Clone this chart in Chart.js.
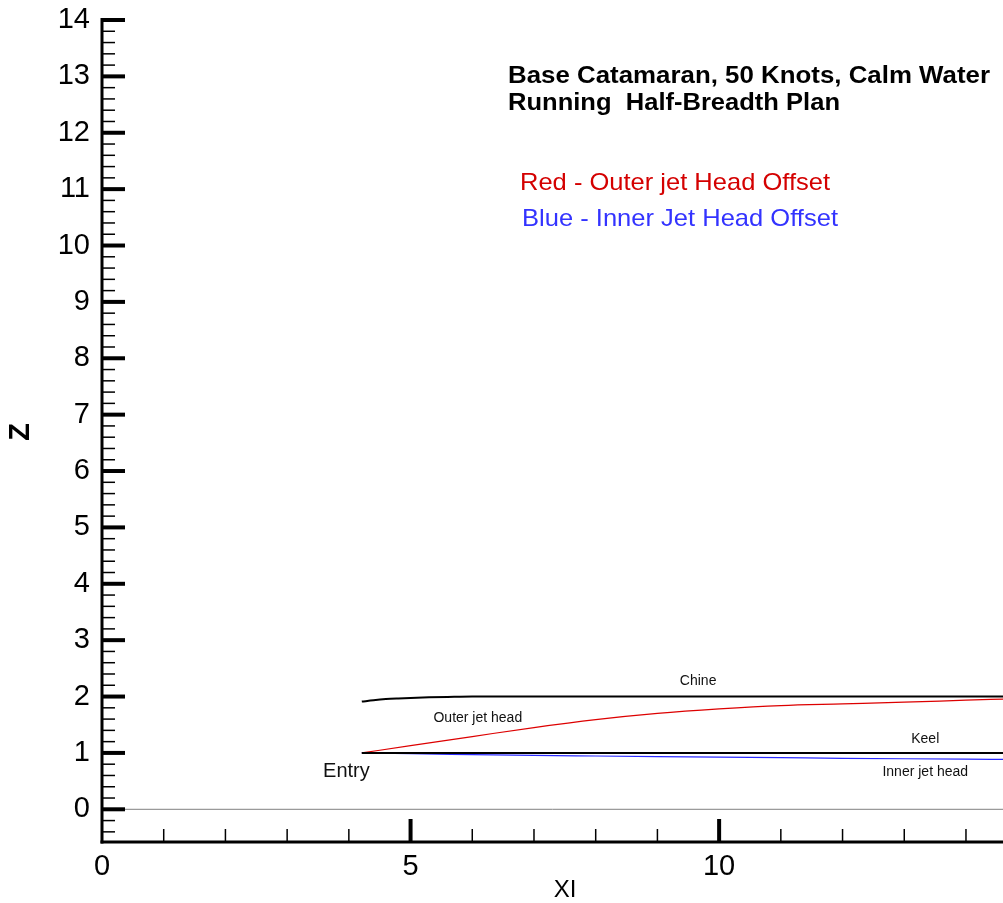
<!DOCTYPE html>
<html>
<head>
<meta charset="utf-8">
<script src="https://cdn.jsdelivr.net/npm/chart.js@4.4.0/dist/chart.umd.min.js"></script>
<style>
  html, body { margin: 0; padding: 0; background: #fff; }
  canvas { display: block; }
</style>
</head>
<body>
<canvas id="c" width="1003" height="903"></canvas>
<script>
// ---- data ----
const xTickLabels = [0, 5, 10];
const yTickLabels = [0, 1, 2, 3, 4, 5, 6, 7, 8, 9, 10, 11, 12, 13, 14];

const chineX = [4.21, 4.4, 4.6, 4.8, 5.0, 5.3, 5.6, 6.0, 7.0, 8.0, 10.0, 12.0, 14.0, 14.6];
const chineY = [1.91, 1.935, 1.955, 1.967, 1.976, 1.986, 1.993, 2.0, 2.0, 2.0, 2.0, 2.0, 2.0, 2.0];

const keelX = [4.21, 14.6];
const keelY = [1.0, 1.0];

const outerX = [4.21, 5, 6, 7, 8, 9, 10, 11, 12, 13, 14, 14.6];
const outerY = [1.00, 1.13, 1.29, 1.45, 1.59, 1.70, 1.78, 1.84, 1.87, 1.90, 1.935, 1.955];

const innerX = [4.21, 5, 6, 7, 8, 9, 10, 11, 12, 13, 14, 14.6];
const innerY = [1.0, 0.985, 0.97, 0.955, 0.945, 0.935, 0.925, 0.915, 0.905, 0.897, 0.89, 0.886];

const zeroX = [0, 14.6];
const zeroY = [0, 0];

const FONT = "'Liberation Sans', Arial, Helvetica, sans-serif";

function pts(xs, ys) { return xs.map((x, i) => ({ x: x, y: ys[i] })); }

// axes + inward tick marks + x tick labels, drawn from the chart's scales
const axesPlugin = {
  id: 'axesPlugin',
  afterDatasetsDraw(chart) {
    const ctx = chart.ctx;
    const xs = chart.scales.x, ys = chart.scales.y;
    const ca = chart.chartArea;
    ctx.save();
    ctx.strokeStyle = '#000';
    ctx.lineCap = 'butt';
    ctx.lineWidth = 3;
    ctx.beginPath();
    ctx.moveTo(xs.getPixelForValue(0), ys.getPixelForValue(14) - 2);
    ctx.lineTo(xs.getPixelForValue(0), ca.bottom + 1.5);
    ctx.stroke();
    ctx.beginPath();
    ctx.moveTo(xs.getPixelForValue(0) - 1.5, ca.bottom);
    ctx.lineTo(ca.right, ca.bottom);
    ctx.stroke();
    const x0 = xs.getPixelForValue(0);
    for (let k = -2; k <= 70; k++) {
      const v = k / 5;
      const py = ys.getPixelForValue(v);
      const major = (k % 5 === 0);
      ctx.lineWidth = major ? 4 : 1.5;
      ctx.beginPath();
      ctx.moveTo(x0, py);
      ctx.lineTo(x0 + (major ? 23 : 13), py);
      ctx.stroke();
    }
    for (let v = 1; v <= 14; v++) {
      const px = xs.getPixelForValue(v);
      const major = (v % 5 === 0);
      ctx.lineWidth = major ? 4 : 1.5;
      ctx.beginPath();
      ctx.moveTo(px, ca.bottom);
      ctx.lineTo(px, ca.bottom - (major ? 23 : 13));
      ctx.stroke();
    }
    ctx.font = '29px ' + FONT;
    ctx.fillStyle = '#000';
    ctx.textAlign = 'center';
    ctx.textBaseline = 'alphabetic';
    xTickLabels.forEach(v => ctx.fillText(String(v), xs.getPixelForValue(v), 875));
    ctx.restore();
  }
};

function stretchText(ctx, text, left, baseline, font, color, width) {
  ctx.save();
  ctx.font = font;
  ctx.fillStyle = color;
  ctx.textBaseline = 'alphabetic';
  ctx.textAlign = 'left';
  const w = ctx.measureText(text).width;
  const s = width ? width / w : 1;
  ctx.translate(left, baseline);
  ctx.scale(s, 1);
  ctx.fillText(text, 0, 0);
  ctx.restore();
}

const textPlugin = {
  id: 'textPlugin',
  afterDraw(chart) {
    const ctx = chart.ctx;
    const xs = chart.scales.x, ys = chart.scales.y;
    stretchText(ctx, 'Base Catamaran, 50 Knots, Calm Water', 508, 83, 'bold 23px ' + FONT, '#000', 482);
    stretchText(ctx, 'Running  Half-Breadth Plan', 508, 110, 'bold 23px ' + FONT, '#000', 332);
    stretchText(ctx, 'Red - Outer jet Head Offset', 520, 190, '24px ' + FONT, '#d40000', 310);
    stretchText(ctx, 'Blue - Inner Jet Head Offset', 522, 226, '24px ' + FONT, '#3333ff', 316);
    const lab = (t, x, y, size) => {
      ctx.save();
      ctx.font = size + 'px ' + FONT;
      ctx.fillStyle = '#111';
      ctx.textAlign = 'center';
      ctx.textBaseline = 'alphabetic';
      ctx.fillText(t, xs.getPixelForValue(x), ys.getPixelForValue(y));
      ctx.restore();
    };
    lab('Chine', 9.66, 2.21, 14);
    lab('Outer jet head', 6.09, 1.55, 14);
    lab('Keel', 13.34, 1.17, 14);
    lab('Inner jet head', 13.34, 0.59, 14);
    lab('Entry', 3.96, 0.57, 20);
    ctx.save();
    ctx.font = '24px ' + FONT;
    ctx.fillStyle = '#000';
    ctx.textAlign = 'center';
    ctx.textBaseline = 'alphabetic';
    ctx.fillText('XI', 565, 897);
    ctx.restore();
    ctx.save();
    ctx.font = 'bold 29px ' + FONT;
    ctx.fillStyle = '#000';
    ctx.textAlign = 'center';
    ctx.textBaseline = 'middle';
    ctx.translate(21, 432);
    ctx.rotate(-Math.PI / 2);
    ctx.fillText('Z', 0, 0);
    ctx.restore();
  }
};

new Chart(document.getElementById('c'), {
  type: 'scatter',
  data: {
    datasets: [
      { label: 'zero', data: pts(zeroX, zeroY), showLine: true, borderColor: '#808080', borderWidth: 1, pointRadius: 0 },
      { label: 'Keel', data: pts(keelX, keelY), showLine: true, borderColor: '#000', borderWidth: 2, pointRadius: 0 },
      { label: 'Inner jet head', data: pts(innerX, innerY), showLine: true, borderColor: '#2a2aff', borderWidth: 1.2, pointRadius: 0, cubicInterpolationMode: 'monotone' },
      { label: 'Outer jet head', data: pts(outerX, outerY), showLine: true, borderColor: '#dd0000', borderWidth: 1.2, pointRadius: 0, cubicInterpolationMode: 'monotone' },
      { label: 'Chine', data: pts(chineX, chineY), showLine: true, borderColor: '#000', borderWidth: 2, pointRadius: 0, cubicInterpolationMode: 'monotone' }
    ]
  },
  options: {
    responsive: false,
    animation: false,
    devicePixelRatio: 1,
    layout: { padding: { top: 20, right: 0, left: 0, bottom: 0 } },
    plugins: { legend: { display: false }, tooltip: { enabled: false } },
    scales: {
      x: {
        type: 'linear', min: 0, max: 14.6,
        grid: { display: false, drawTicks: false },
        border: { display: false },
        ticks: { display: false },
        afterBuildTicks: s => { s.ticks = xTickLabels.map(v => ({ value: v })); },
        afterFit: s => { s.height = 61; s.paddingLeft = 0; s.paddingRight = 0; }
      },
      y: {
        type: 'linear', min: -0.58, max: 14,
        grid: { display: false, drawTicks: false },
        border: { display: false },
        ticks: { font: { family: FONT, size: 29 }, color: '#000', padding: 12, autoSkip: false },
        afterBuildTicks: s => { s.ticks = yTickLabels.map(v => ({ value: v })); },
        afterFit: s => { s.width = 102; s.paddingTop = 0; s.paddingBottom = 0; }
      }
    }
  },
  plugins: [axesPlugin, textPlugin]
});
</script>
</body>
</html>
